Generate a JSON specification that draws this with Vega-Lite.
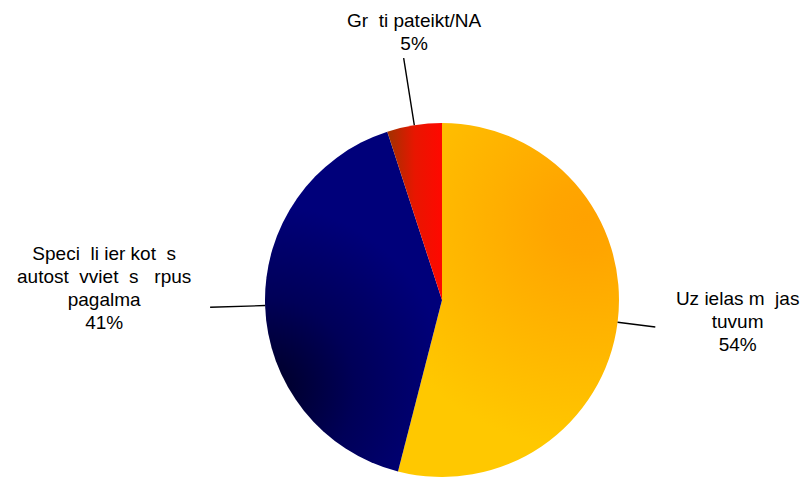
{
  "$schema": "https://vega.github.io/schema/vega-lite/v6.json",
  "width": 730,
  "height": 354,
  "autosize": {"type": "none"},
  "padding": {"left": 77, "top": 123, "right": 0, "bottom": 0},
  "background": "white",
  "config": {"view": {"stroke": null}},
  "data": {"values": [
    {"key": "street", "label": "Uz ielas m\u00a0\u00a0jas\ntuvum\u00a0\u00a0", "value": 54},
    {"key": "lot", "label": "Speci\u00a0\u00a0li ier\u00a0kot\u00a0\u00a0s\nautost\u00a0\u00a0vviet\u00a0\u00a0s \u00a0\u00a0rpus\npagalma", "value": 41},
    {"key": "na", "label": "Gr\u00a0\u00a0ti pateikt/NA", "value": 5}
  ]},
  "transform": [
    {"window": [{"op": "sum", "field": "value", "as": "cum"}], "sort": [{"field": "value", "order": "descending"}], "frame": [null, 0]},
    {"calculate": "datum.cum - datum.value", "as": "start"},
    {"calculate": "datum.cum - datum.value / 2", "as": "mid"},
    {"calculate": "datum.label + '\\n' + datum.value + '%'", "as": "txt"}
  ],
  "layer": [
    {
      "transform": [{"filter": "datum.key === 'street'"}],
      "mark": {"type": "arc", "radius": 177, "fill": {"gradient": "radial", "x1": 0.72, "y1": 0.27, "r1": 0, "x2": 0.72, "y2": 0.27, "r2": 0.65, "stops": [{"offset": 0, "color": "#FFA200"}, {"offset": 0.15, "color": "#FFA500"}, {"offset": 1, "color": "#FFC800"}]}},
      "encoding": {"theta": {"field": "start", "type": "quantitative", "scale": {"domain": [0, 100]}}, "theta2": {"field": "cum"}}
    },
    {
      "transform": [{"filter": "datum.key === 'lot'"}],
      "mark": {"type": "arc", "radius": 177, "fill": {"gradient": "radial", "x1": 0.23, "y1": 0.76, "r1": 0, "x2": 0.23, "y2": 0.76, "r2": 0.55, "stops": [{"offset": 0, "color": "#000022"}, {"offset": 0.5, "color": "#000058"}, {"offset": 1, "color": "#00007A"}]}},
      "encoding": {"theta": {"field": "start", "type": "quantitative", "scale": {"domain": [0, 100]}}, "theta2": {"field": "cum"}}
    },
    {
      "transform": [{"filter": "datum.key === 'na'"}],
      "mark": {"type": "arc", "radius": 177, "fill": {"gradient": "linear", "x1": 0, "y1": 0, "x2": 1, "y2": 0, "stops": [{"offset": 0, "color": "#A03200"}, {"offset": 0.5, "color": "#E81600"}, {"offset": 1, "color": "#FF0800"}]}},
      "encoding": {"theta": {"field": "start", "type": "quantitative", "scale": {"domain": [0, 100]}}, "theta2": {"field": "cum"}}
    },
    {
      "transform": [{"filter": "datum.key === 'street'"}],
      "mark": {"type": "arc", "radius": 215, "radius2": 177, "filled": false, "stroke": "black", "strokeWidth": 1.4},
      "encoding": {"theta": {"field": "mid", "type": "quantitative", "scale": {"domain": [0, 100]}}, "theta2": {"field": "mid"}}
    },
    {
      "transform": [{"filter": "datum.key === 'lot'"}],
      "mark": {"type": "arc", "radius": 232, "radius2": 177, "filled": false, "stroke": "black", "strokeWidth": 1.4},
      "encoding": {"theta": {"field": "mid", "type": "quantitative", "scale": {"domain": [0, 100]}}, "theta2": {"field": "mid"}}
    },
    {
      "transform": [{"filter": "datum.key === 'na'"}],
      "mark": {"type": "arc", "radius": 245, "radius2": 177, "filled": false, "stroke": "black", "strokeWidth": 1.4},
      "encoding": {"theta": {"field": "mid", "type": "quantitative", "scale": {"domain": [0, 100]}}, "theta2": {"field": "mid"}}
    },
    {
      "transform": [{"filter": "datum.key === 'street'"}],
      "mark": {"type": "text", "radius": 298, "dy": -38, "lineBreak": "\n", "font": "Liberation Sans", "fontSize": 19, "lineHeight": 23, "align": "center", "baseline": "middle", "color": "black"},
      "encoding": {"theta": {"field": "mid", "type": "quantitative", "scale": {"domain": [0, 100]}}, "text": {"field": "txt"}}
    },
    {
      "transform": [{"filter": "datum.key === 'lot'"}],
      "mark": {"type": "text", "radius": 338, "dy": -57, "lineBreak": "\n", "font": "Liberation Sans", "fontSize": 19, "lineHeight": 23, "align": "center", "baseline": "middle", "color": "black"},
      "encoding": {"theta": {"field": "mid", "type": "quantitative", "scale": {"domain": [0, 100]}}, "text": {"field": "txt"}}
    },
    {
      "transform": [{"filter": "datum.key === 'na'"}],
      "mark": {"type": "text", "radius": 268, "dx": 14, "dy": -14, "lineBreak": "\n", "font": "Liberation Sans", "fontSize": 19, "lineHeight": 23, "align": "center", "baseline": "middle", "color": "black"},
      "encoding": {"theta": {"field": "mid", "type": "quantitative", "scale": {"domain": [0, 100]}}, "text": {"field": "txt"}}
    }
  ]
}
